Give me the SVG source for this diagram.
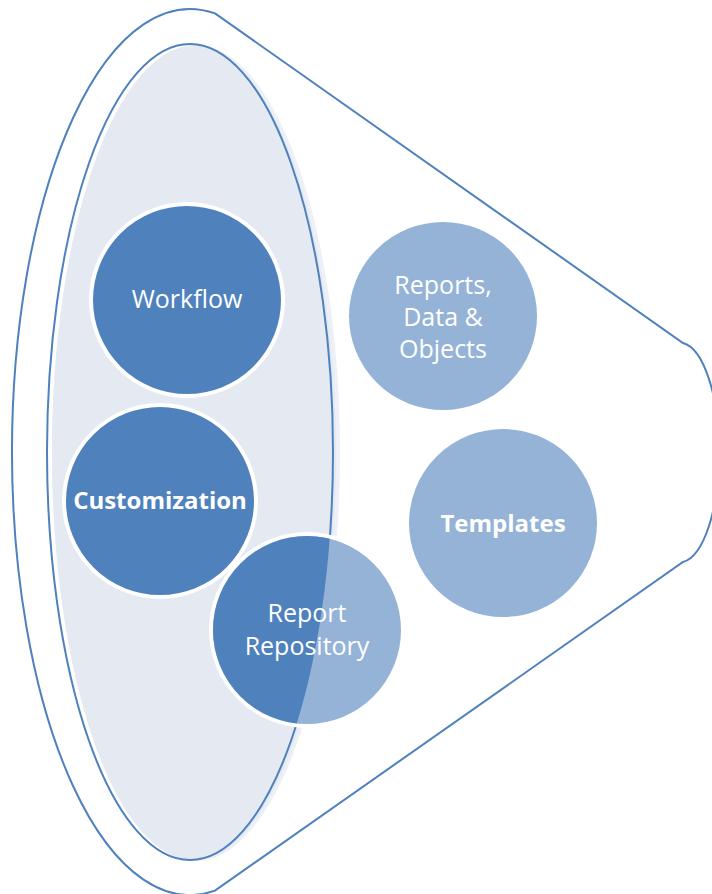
<svg xmlns="http://www.w3.org/2000/svg" width="712" height="894" viewBox="0 0 712 894">
<style>
.line{fill:none;stroke:#4F81BD;stroke-width:2}
.dark{fill:#4F81BD;stroke:#fff;stroke-width:4}
.light{fill:#95B3D7;stroke:#fff;stroke-width:4}
.t{font-family:"Open Sans","Noto Sans",sans-serif;font-size:25px;fill:#fff;text-anchor:middle}
.b{font-weight:bold;font-size:24px}
</style>
<defs>
<clipPath id="inner"><ellipse cx="190" cy="452" rx="143" ry="408"/></clipPath>
</defs>
<g id="funnel">
<path class="line" d="M215,13.4 L683,343 A40 110 0 0 1 683,562 L215,890.6 A178 443 0 1 1 215,13.4 Z"/>
</g>
<g id="inner-ellipse">
<ellipse cx="196" cy="453" rx="144" ry="408" fill="#EDF1F7"/>
<ellipse cx="194" cy="453" rx="142" ry="407" fill="#E4E9F2"/>
<ellipse class="line" cx="190" cy="452" rx="143" ry="408"/>
</g>
<g id="workflow">
<circle class="dark" cx="187" cy="300" r="96"/>
<text class="t" x="187" y="308">Workflow</text>
</g>
<g id="customization">
<circle class="dark" cx="160" cy="501" r="96"/>
<text class="t b" x="160" y="509">Customization</text>
</g>
<g id="reports">
<circle class="light" cx="443" cy="316" r="96"/>
<text class="t" x="443" y="294">Reports,</text>
<text class="t" x="443" y="326">Data &amp;</text>
<text class="t" x="443" y="358">Objects</text>
</g>
<g id="templates">
<circle class="light" cx="503" cy="523" r="96"/>
<text class="t b" x="503" y="532">Templates</text>
</g>
<g id="repository">
<circle class="light" cx="307" cy="630" r="96"/>
<circle cx="307" cy="630" r="94" fill="#4F81BD" clip-path="url(#inner)"/>
<text class="t" x="307" y="622">Report</text>
<text class="t" x="307" y="655">Repository</text>
</g>
</svg>
